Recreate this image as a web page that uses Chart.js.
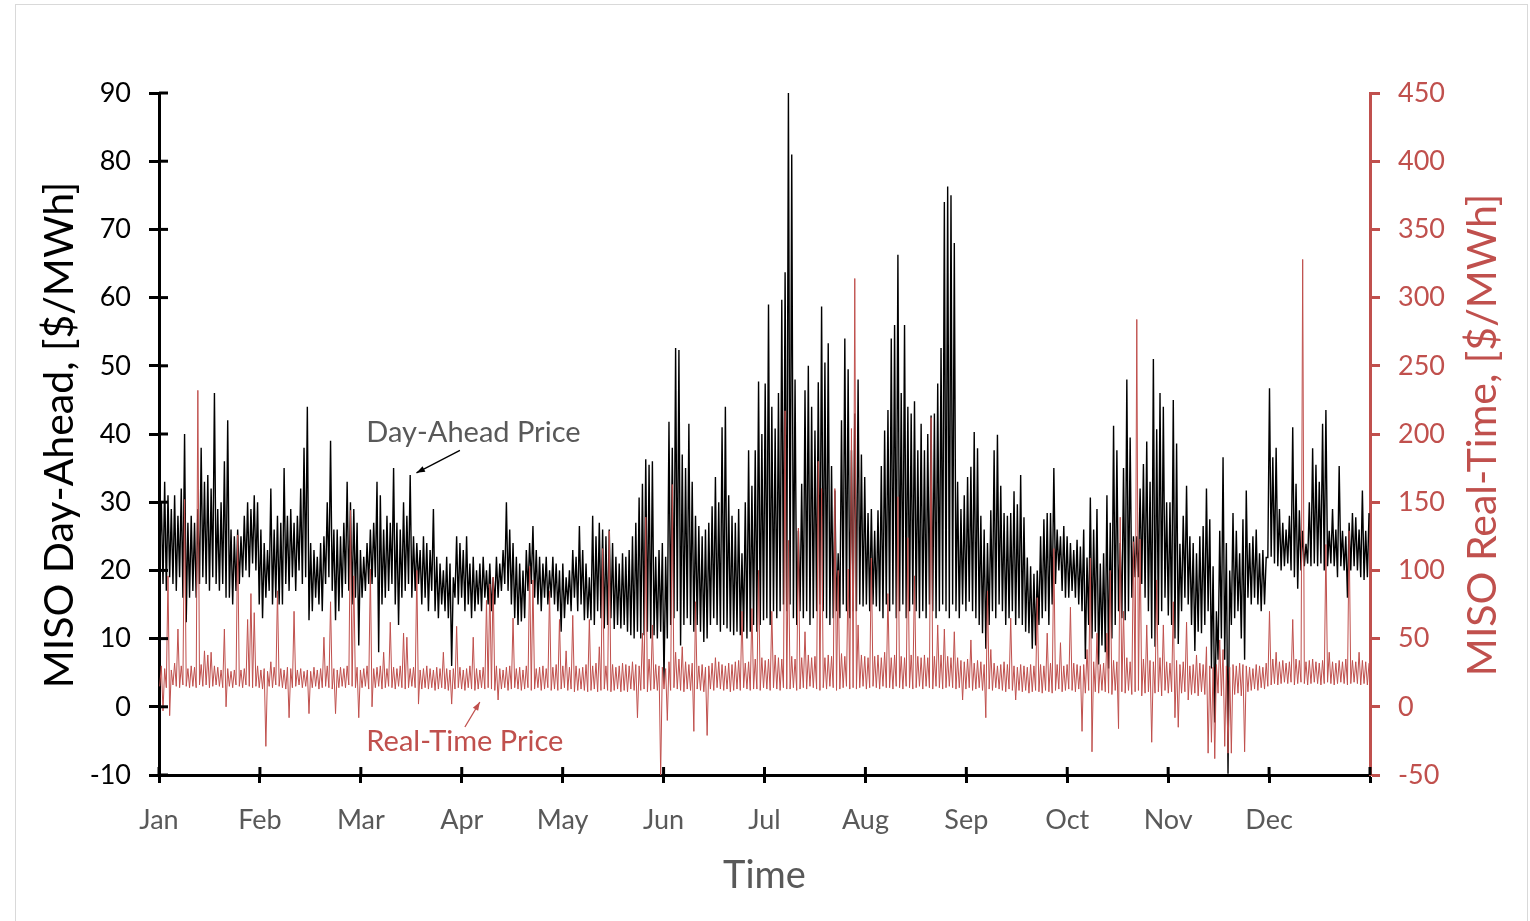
<!DOCTYPE html>
<html>
<head>
<meta charset="utf-8">
<script src="https://cdn.jsdelivr.net/npm/chart.js@4.4.1/dist/chart.umd.min.js"></script>
<style>
  html, body { margin: 0; padding: 0; background: #fff; }
  #wrap { width: 1530px; height: 921px; }
</style>
</head>
<body>
<div id="wrap"><canvas id="chart" width="1530" height="921"></canvas></div>
<script>
// ── DATA ─────────────────────────────────────────────────────
const MONTHS = ['Jan', 'Feb', 'Mar', 'Apr', 'May', 'Jun', 'Jul', 'Aug', 'Sep', 'Oct', 'Nov', 'Dec'];

// daily peak / trough of the hourly day-ahead price, $/MWh (day 0 = Jan 1)
const DA_HIGH = [
  30, 33, 31, 29, 31, 28, 32, 40, 27, 28,
  27, 29, 38, 33, 34, 32, 46, 29, 30, 36,
  42, 26, 25, 26, 25, 28, 30, 29, 31, 30,
  26, 24, 23, 32, 26, 28, 27, 35, 28, 29,
  27, 28, 32, 38, 44, 24, 23, 22, 24, 25,
  30, 39, 26, 26, 25, 27, 33, 30, 29, 27,
  23, 22, 24, 26, 27, 33, 31, 26, 28, 27,
  35, 27, 26, 30, 28, 34, 25, 24, 23, 25,
  24, 23, 29, 22, 21, 20, 22, 21, 19, 25,
  24, 23, 25, 21, 22, 20, 21, 22, 20, 21,
  19, 22, 21, 23, 30, 26, 24, 22, 21, 20,
  23, 24, 26.5, 23, 22, 21, 22, 20, 22, 21,
  20, 21, 19, 20, 23, 22, 26.5, 23, 21, 19,
  28, 25, 27, 26, 25, 26, 24, 22, 21, 22.5,
  22, 23, 25, 27, 30.7, 32.7, 36.3, 35.5, 36, 22,
  23, 24, 22, 41.8, 38, 52.6, 52.3, 37, 35, 41.5,
  33, 28, 26.5, 25, 26, 27, 29.4, 33.7, 30, 41,
  44, 31, 28, 27, 29, 22.5, 30, 37.6, 32.4, 37.6,
  47.7, 40, 47.4, 59, 44, 40.8, 46, 59.7, 63.7, 90,
  81, 48, 25.8, 32.7, 46.4, 50, 44, 40.5, 47.6, 58.7,
  50.5, 53.3, 35.3, 31.7, 22.5, 42, 54, 49.5, 37.6, 43,
  48, 37, 33.7, 28.4, 29, 25.8, 28.8, 35.3, 40.5, 43.5,
  54, 56, 66.3, 46, 56, 44, 43, 44.8, 37.6, 41.5,
  37.6, 40, 42.7, 43, 47.4, 52.6, 74, 76.3, 75, 68,
  33, 29, 31, 33.7, 35.2, 40.3, 37.9, 28, 26, 24,
  28.8, 37.6, 39.9, 32.4, 28.4, 28, 28.4, 31.6, 29.7, 34,
  27.8, 21.9, 20.6, 19.5, 20, 25, 27.5, 28.4, 28.4, 35,
  26, 25, 26.5, 25, 24, 23, 24.5, 23.5, 26, 21.9,
  30.7, 26, 29, 21, 22.5, 31, 27, 41.2, 37.6, 24,
  35, 48, 39.5, 25, 25, 32, 35.6, 38.9, 33, 51,
  40.7, 46, 44, 30, 30, 45, 38.6, 23.9, 28, 32.4,
  25, 24, 22.5, 25, 26.5, 32, 27.5, 20.6, 14, 25.8,
  36.6, 24, 20, 28.4, 25.8, 22.5, 27.5, 31.7, 24, 25,
  26, 22.5, 23, 21.9, 46.7, 36.6, 38, 29, 27, 26,
  28, 41, 32.7, 28.8, 25.8, 23.9, 30, 37.9, 35.5, 33,
  41.5, 43.5, 25.8, 29, 26, 35.3, 25.8, 25, 27, 28.4,
  27.8, 26, 31.7, 25.8, 28.4
];
const DA_LOW = [
  22, 18, 17, 19, 18, 17, 19, 16, 12.4, 16,
  17, 16, 18, 19, 18, 17, 19, 18, 17, 18,
  16, 16, 15, 17, 18, 19, 20, 19, 21, 20,
  15, 13, 16, 17, 15, 16, 15, 15, 18, 17,
  19, 17, 20, 18, 19, 12.7, 14, 16, 15, 14,
  18, 19, 17, 12.7, 14, 16, 18, 17, 15, 16,
  9, 16, 17, 18, 18, 19, 8, 15, 16, 17,
  18, 15, 12, 16, 17, 18, 16, 17, 18, 15,
  16, 14, 17, 14, 13, 15, 14, 13, 6, 16,
  15, 16, 14, 15, 13, 14, 15, 14, 16, 15,
  14, 15, 16, 17, 18, 17, 15, 13, 12, 12.5,
  13, 17, 18, 16, 15, 14, 16, 15, 16, 15,
  14, 11, 13, 15, 14, 16, 14, 15, 12.7, 13,
  12.7, 12, 14, 13, 11.5, 12, 13, 11.4, 12, 11.5,
  12, 11, 10.5, 10, 11, 10, 10.5, 11, 10, 10.5,
  10, 11, 3.6, 10, 12, 13, 14, 9, 12, 13,
  12, 11, 12, 11, 9.5, 10, 12, 13, 12, 11,
  12, 11.5, 11, 10.5, 11, 10.5, 11, 10, 11, 12,
  11, 12, 12.7, 13, 12, 14, 13, 14, 15, 14,
  15, 13, 12, 14, 13, 14, 12, 13, 14, 15,
  14, 13, 12, 13, 14, 13, 15, 14, 13, 14,
  14, 15, 14.7, 15, 14, 15, 14.7, 14, 13, 15,
  14, 15, 13, 14, 15, 13, 14, 15, 14, 13,
  14, 13, 15, 14, 13, 14, 15, 14, 13, 15,
  14, 13, 15, 14, 15.4, 14, 13, 12, 10.8, 8.5,
  12, 14, 13, 15, 14, 12, 13, 14, 12, 13,
  12, 11, 10.8, 8.5, 9, 12, 13, 14, 12, 15,
  18, 20, 17, 16, 16, 17, 16, 15, 14, 7,
  12, 10, 11, 6.2, 9, 8, 5.6, 10, 12, 14,
  13, 12.7, 14, 16, 19, 19, 18, 16, 14, 10,
  8.8, 12, 14, 16, 13.4, 12, 10, 9.2, 14, 16,
  15, 12, 8.2, 11, 10.8, 12, 14, 5.6, -2.3, 6.9,
  10, 6.9, -9.8, 12, 13, 14, 10, 6.9, 16, 15,
  16, 15, 14, 15, 21.9, 22, 21, 20.6, 20, 20.6,
  21, 20, 19, 17.3, 20, 20.6, 21, 20.6, 21, 20.6,
  21, 20, 20.6, 21, 20.6, 19, 20.6, 20, 16, 20,
  20.6, 20, 19, 18.6, 19
];

// daily peak / trough of the real-time price, $/MWh
const RT_HIGH = [
  30, 28, 96, 27, 32, 57, 30, 152, 28, 30,
  29, 232, 31, 41, 38, 40, 30, 29, 27, 57,
  28, 26, 27, 126, 27, 28, 64, 83, 69, 30,
  27, 28, 26, 33, 29, 85, 28, 27, 29, 28,
  70, 27, 28, 26, 27, 26, 29, 27, 28, 51,
  30, 77, 28, 27, 29, 28, 30, 144, 96, 29,
  27, 28, 30, 101, 28, 29, 30, 40, 28, 62,
  29, 28, 30, 54, 51, 28, 29, 100, 27, 28,
  30, 28, 27, 29, 28, 40, 28, 27, 28, 59,
  29, 27, 28, 30, 51, 28, 27, 29, 78, 90,
  95, 30, 28, 27, 29, 30, 65, 28, 29, 27,
  30, 103, 93, 28, 29, 30, 28, 85, 29, 31,
  64, 30, 41, 29, 67, 30, 28, 29, 31, 64,
  30, 32, 44, 116, 30, 129, 31, 29, 30, 32,
  31, 30, 33, 31, 30, 54, 139, 35, 60, 31,
  30, 29, 28, 33, 163, 40, 35, 44, 33, 31,
  32, 77, 30, 31, 29, 30, 32, 36, 33, 31,
  30, 32, 31, 33, 34, 70, 32, 33, 72, 35,
  100, 36, 34, 35, 70, 38, 36, 35, 217, 122,
  37, 35, 131, 36, 55, 38, 36, 37, 180, 160,
  36, 38, 37, 160, 100, 39, 37, 101, 204, 314,
  60, 38, 37, 36, 109, 37, 38, 36, 40, 83,
  36, 38, 154, 37, 36, 124, 38, 96, 37, 36,
  38, 36, 212, 37, 60, 38, 57, 37, 36, 55,
  36, 34, 33, 35, 49, 32, 34, 33, 31, 85,
  42, 32, 30, 31, 33, 31, 65, 30, 29, 31,
  30, 29, 31, 30, 80, 31, 30, 54, 32, 116,
  31, 47, 30, 31, 73, 32, 31, 30, 31, 42,
  109, 33, 54, 31, 32, 54, 100, 34, 33, 139,
  70, 36, 33, 121, 284, 123, 35, 60, 34, 33,
  93, 36, 60, 33, 32, 77, 34, 31, 33, 62,
  30, 31, 38, 32, 31, 44, 30, 29, 31, 49,
  42, 30, 29, 31, 30, 32, 31, 30, 29, 28,
  31, 30, 29, 32, 70, 35, 40, 33, 34, 32,
  33, 64, 35, 34, 328, 33, 34, 35, 33, 32,
  34, 119, 40, 33, 32, 34, 33, 35, 129, 34,
  33, 40, 34, 33, 32
];
const RT_LOW = [
  15, -3, 14, -6.5, 16, 15, 14, 16, 15, 14,
  15, 14, 16, 15, 16, 14, 15, 16, 15, 14,
  0, 15, 14, 16, 15, 14, 16, 15, 14, 15,
  14, 13, -29, 15, 14, 16, 15, 14, 13, -8,
  14, 15, 16, 14, 15, -5, 14, 15, 13, 14,
  15, 14, 13, -5, 14, 15, 14, 16, 15, 14,
  -8, 14, 15, 13, 0, 14, 15, 13, 14, 15,
  14, 13, 15, 14, 13, 14, 15, 14, 2, 13,
  14, 13, 14, 12, 13, 14, 13, 12, 2, 13,
  14, 13, 12, 14, 13, 12, 13, 14, 13, 14,
  13, 12, 5, 13, 14, 12, 13, 14, 13, 12,
  13, 14, 12, 13, 14, 12, 13, 14, 12, 13,
  12, 13, 14, 12, 13, 11, 12, 13, 12, 11,
  12, 13, 11, 12, 13, 12, 11, 12, 13, 11,
  12, 11, 13, 12, -8, 12, 13, 11, 12, 13,
  12, -50, 13, -10, 12, 14, 13, 12, 11, 13,
  12, -18, 13, 12, 11, -21, 13, 12, 14, 13,
  12, 13, 11, 12, 13, 12, 14, 13, 12, 13,
  13, 12, 14, 13, 12, 14, 13, 12, 14, 13,
  13, 14, 12, 13, 14, 13, 15, 14, 13, 12,
  14, 13, 15, 14, 12, 13, 14, 15, 13, 14,
  13, 14, 15, 13, 14, 15, 14, 13, 15, 14,
  14, 13, 15, 14, 13, 15, 14, 13, 14, 15,
  13, 15, 14, 13, 15, 14, 13, 14, 15, 14,
  13, 14, 5, 13, 14, 12, 13, 14, 12, -8,
  13, 12, 14, 13, 12, 11, 13, 12, 5, 12,
  11, 12, 10, 11, 12, 11, 10, 12, 11, 10,
  12, 13, 11, 12, 13, 12, 11, 13, -18, 10,
  12, -33, 11, 10, 12, 11, 10, 9, 12, -16,
  11, 10, 12, 9, 11, 12, 8, 10, 11, -26,
  10, 11, 8, 12, 10, 11, -8, -15, 10, 11,
  5, 9, 10, 8, 11, 9, -34, -26, -38, 10,
  8, -29, -34, -34, 9, 10, 8, -33, 11, 12,
  13, 12, 14, 13, 15, 16, 17, 16, 17, 18,
  17, 18, 16, 17, 18, 17, 16, 17, 18, 17,
  16, 17, 18, 17, 16, 17, 18, 17, 16, 17,
  18, 17, 16, 17, 16
];

// ── STYLE ────────────────────────────────────────────────────
const FONT = 'Lato, "Open Sans", sans-serif';
const RED = '#C0504D';
const GREY = '#595959';
const LOW_HOUR = 5, HIGH_HOUR = 17;   // where trough / peak sit inside a day
const MONTH_TICKS = MONTHS.map((m, i) => i * 365 / 12).concat([365]);

// annotation anchors, in data units (day, price)
const NOTES = [
  { text: 'Day-Ahead Price', axis: 'y',  color: GREY, at: [62.5, 40.2], from: [90.7, 37.6], to: [77.6, 34.3], head: '#000' },
  { text: 'Real-Time Price', axis: 'y2', color: RED,  at: [62.5, -25.5], from: [92.2, -14.8], to: [96.7, 3.5], head: RED }
];

function dailyZigzag(lows, highs) {
  const pts = [];
  lows.forEach((lo, d) => {
    pts.push({ x: d + LOW_HOUR / 24, y: lo });
    pts.push({ x: d + HIGH_HOUR / 24, y: highs[d] });
  });
  return pts;
}

// ── DECORATION PLUGIN ───────────────────────────────────────
function arrow(ctx, x1, y1, x2, y2, color) {
  const a = Math.atan2(y2 - y1, x2 - x1);
  ctx.strokeStyle = color; ctx.fillStyle = color; ctx.lineWidth = 1.3;
  ctx.beginPath(); ctx.moveTo(x1, y1); ctx.lineTo(x2, y2); ctx.stroke();
  ctx.beginPath();
  ctx.moveTo(x2, y2);
  ctx.lineTo(x2 - 9 * Math.cos(a - 0.35), y2 - 9 * Math.sin(a - 0.35));
  ctx.lineTo(x2 - 9 * Math.cos(a + 0.35), y2 - 9 * Math.sin(a + 0.35));
  ctx.closePath(); ctx.fill();
}

const decor = {
  id: 'decor',
  beforeDraw(chart) {
    const ctx = chart.ctx;
    ctx.save(); ctx.fillStyle = '#fff'; ctx.fillRect(0, 0, chart.width, chart.height); ctx.restore();
  },
  afterDraw(chart) {
    const { ctx, chartArea: ca, scales } = chart;
    ctx.save();

    // frame
    ctx.strokeStyle = '#D9D9D9'; ctx.lineWidth = 1;
    ctx.strokeRect(15.5, 4.5, 1512, 930);

    // inner halves of the cross ticks
    ctx.strokeStyle = '#000'; ctx.lineWidth = 3;
    scales.y.ticks.forEach(t => {
      const py = scales.y.getPixelForValue(t.value);
      ctx.beginPath(); ctx.moveTo(ca.left, py); ctx.lineTo(ca.left + 9, py); ctx.stroke();
    });
    scales.x.ticks.forEach(t => {
      const px = scales.x.getPixelForValue(t.value);
      ctx.beginPath(); ctx.moveTo(px, ca.bottom); ctx.lineTo(px, ca.bottom - 8); ctx.stroke();
    });

    // axis titles
    ctx.textAlign = 'center'; ctx.textBaseline = 'middle';
    ctx.font = `41px ${FONT}`;
    ctx.fillStyle = '#000';
    ctx.save(); ctx.translate(60, 435); ctx.rotate(-Math.PI / 2);
    ctx.fillText('MISO Day-Ahead, [$/MWh]', 0, 0); ctx.restore();
    ctx.fillStyle = RED;
    ctx.save(); ctx.translate(1483, 435); ctx.rotate(-Math.PI / 2);
    ctx.fillText('MISO Real-Time, [$/MWh]', 0, 0); ctx.restore();
    ctx.fillStyle = GREY; ctx.font = `38px ${FONT}`;
    ctx.fillText('Time', (ca.left + ca.right) / 2, 876);

    // series notes
    ctx.font = `29px ${FONT}`; ctx.textAlign = 'left';
    NOTES.forEach(n => {
      const ys = scales[n.axis];
      ctx.fillStyle = n.color;
      ctx.fillText(n.text, scales.x.getPixelForValue(n.at[0]), ys.getPixelForValue(n.at[1]));
      arrow(ctx,
        scales.x.getPixelForValue(n.from[0]), ys.getPixelForValue(n.from[1]),
        scales.x.getPixelForValue(n.to[0]), ys.getPixelForValue(n.to[1]), n.head);
    });
    ctx.restore();
  }
};

// ── CHART ────────────────────────────────────────────────────
const tickFont = { family: FONT, size: 27 };

new Chart(document.getElementById('chart'), {
  type: 'line',
  data: {
    datasets: [
      { label: 'Real-Time Price', data: dailyZigzag(RT_LOW, RT_HIGH), yAxisID: 'y2',
        borderColor: RED, borderWidth: 1, pointRadius: 0, order: 0 },
      { label: 'Day-Ahead Price', data: dailyZigzag(DA_LOW, DA_HIGH), yAxisID: 'y',
        borderColor: '#000', borderWidth: 1.4, pointRadius: 0, order: 1 }
    ]
  },
  options: {
    responsive: false,
    animation: false,
    devicePixelRatio: 1,
    parsing: false,
    layout: { padding: { top: 93, left: 0, right: 0, bottom: 0 } },
    plugins: { legend: { display: false }, tooltip: { enabled: false } },
    elements: { line: { tension: 0 } },
    scales: {
      x: {
        type: 'linear', min: 0, max: 365,
        afterBuildTicks: axis => { axis.ticks = MONTH_TICKS.map(v => ({ value: v })); },
        afterFit: s => { s.height = 146; },
        ticks: { autoSkip: false, maxRotation: 0, color: GREY, font: tickFont, padding: 21,
                 callback: (v, i) => MONTHS[i] || '' },
        grid: { drawOnChartArea: false, tickLength: 8, tickWidth: 3, tickColor: '#000' },
        border: { color: '#000', width: 3 }
      },
      y: {
        position: 'left', min: -10, max: 90,
        afterFit: s => { s.width = 159; },
        ticks: { stepSize: 10, color: '#000', font: tickFont, padding: 18 },
        grid: { drawOnChartArea: false, tickLength: 10, tickWidth: 3, tickColor: '#000' },
        border: { color: '#000', width: 3 }
      },
      y2: {
        position: 'right', min: -50, max: 450,
        afterFit: s => { s.width = 160; },
        ticks: { stepSize: 50, color: RED, font: tickFont, padding: 18 },
        grid: { drawOnChartArea: false, tickLength: 10, tickWidth: 3, tickColor: RED },
        border: { color: RED, width: 3 }
      }
    }
  },
  plugins: [decor]
});
</script>
</body>
</html>
